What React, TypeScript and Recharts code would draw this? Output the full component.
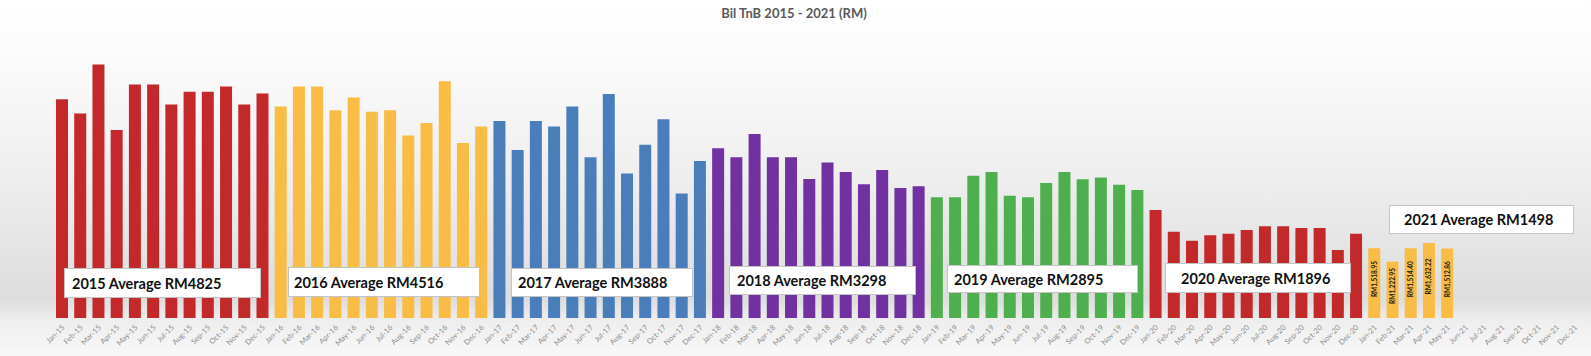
import React from "react";
import { Bar, BarChart, Cell, LabelList, XAxis, YAxis } from "recharts";

// monthly TnB bill (RM)
const months = ["Jan", "Feb", "Mar", "Apr", "May", "Jun", "Jul", "Aug", "Sep", "Oct", "Nov", "Dec"];
const years = ["15", "16", "17", "18", "19", "20", "21"];

const bills2015 = [4757, 4444, 5509, 4089, 5074, 5074, 4639, 4916, 4916, 5031, 4639, 4879];
const bills2016 = [4596, 5031, 5031, 4517, 4792, 4481, 4517, 3965, 4241, 5148, 3806, 4161];
const bills2017 = [4285, 3654, 4285, 4161, 4596, 3495, 4872, 3139, 3769, 4322, 2704, 3415];
const bills2018 = [3691, 3495, 4002, 3495, 3495, 3023, 3378, 3176, 2908, 3219, 2828, 2864];
const bills2019 = [2625, 2625, 3095, 3176, 2660, 2625, 2936, 3176, 3017, 3052, 2899, 2784];
const bills2020 = [2349, 1877, 1681, 1799, 1834, 1914, 1994, 1994, 1958, 1958, 1479, 1834];
const bills2021 = [1518.95, 1222.95, 1514.4, 1632.22, 1512.86, null, null, null, null, null, null, null];

const averages = [4825, 4516, 3888, 3298, 2895, 1896, 1498];
const yearColors = ["#C3292A", "#F9BD45", "#4A7EBB", "#7131A1", "#4EAF4F", "#C3292A", "#F9BD45"];

// where the white average boxes sit on the page
const boxLayout = [
  { left: 64, top: 268, width: 197, height: 30, pad: 7 },
  { left: 288, top: 267, width: 192, height: 30, pad: 5 },
  { left: 511, top: 268, width: 182, height: 29, pad: 6 },
  { left: 729, top: 266, width: 187, height: 29, pad: 7 },
  { left: 947, top: 265, width: 191, height: 28, pad: 6 },
  { left: 1165, top: 263, width: 186, height: 30, pad: 15 },
  { left: 1389, top: 205, width: 185, height: 29, pad: 14 },
];

const series = [bills2015, bills2016, bills2017, bills2018, bills2019, bills2020, bills2021];

const rows = years.flatMap((yy, yi) =>
  months.map((m, mi) => {
    const v = series[yi][mi];
    return {
      month: `${m}-${yy}`,
      bill: v,
      year: yi,
      tag:
        yi === 6 && v != null
          ? "RM" + v.toLocaleString("en-US", { minimumFractionDigits: 2, maximumFractionDigits: 2 })
          : "",
    };
  })
);

const FONT = "Lato, 'Liberation Sans', sans-serif";

function MonthTick(props: any) {
  const { x, y, payload } = props;
  const tx = x + 3;
  const ty = y + 4;
  return (
    <text
      x={tx}
      y={ty}
      transform={`rotate(-45 ${tx} ${ty})`}
      textAnchor="end"
      fontSize={7.5}
      fill="#8c8c8c"
      fontFamily={FONT}
    >
      {payload.value}
    </text>
  );
}

function InBarLabel(props: any) {
  const { x, y, width, height, value } = props;
  if (!value) return null;
  const cx = x + width / 2 + 2.5;
  const cy = y + height / 2 - 4;
  return (
    <text
      x={cx}
      y={cy}
      transform={`rotate(-90 ${cx} ${cy})`}
      textAnchor="middle"
      fontSize={6.5}
      fontWeight={700}
      fill="#1a1a1a"
      fontFamily={FONT}
    >
      {value}
    </text>
  );
}

export default function App() {
  return (
    <div
      style={{
        position: "absolute",
        left: 0,
        top: 0,
        width: 1591,
        height: 356,
        overflow: "hidden",
        background:
          "linear-gradient(to bottom, #ffffff 0%, #fcfcfc 14%, #eeeeee 50%, #e0e0e0 78%, #dddddd 84%, #eeeeee 90%, #f8f8f8 100%)",
        fontFamily: FONT,
      }}
    >
      <div
        style={{
          position: "absolute",
          top: 5,
          left: 0,
          width: 1588,
          textAlign: "center",
          fontSize: 13,
          fontWeight: 700,
          color: "#595959",
        }}
      >
        Bil TnB 2015 - 2021 (RM)
      </div>
      <BarChart width={1591} height={356} data={rows} margin={{ top: 19, right: 7, left: 53, bottom: 0 }}>
        <XAxis
          dataKey="month"
          interval={0}
          height={38}
          axisLine={false}
          tickLine={false}
          tickSize={4}
          tick={<MonthTick />}
        />
        <YAxis hide domain={[0, 6500]} />
        <Bar dataKey="bill" barSize={12} isAnimationActive={false}>
          {rows.map((r, i) => (
            <Cell key={i} fill={yearColors[r.year]} />
          ))}
          <LabelList dataKey="tag" content={<InBarLabel />} />
        </Bar>
      </BarChart>
      {boxLayout.map((b, i) => (
        <div
          key={i}
          style={{
            position: "absolute",
            left: b.left,
            top: b.top,
            width: b.width,
            height: b.height,
            boxSizing: "border-box",
            background: "#ffffff",
            border: "1.5px solid #c4c4c4",
            display: "flex",
            alignItems: "center",
            paddingLeft: b.pad,
            fontSize: 14.5,
            fontWeight: 700,
            color: "#111111",
          }}
        >
          {`20${years[i]} Average RM${averages[i]}`}
        </div>
      ))}
    </div>
  );
}
